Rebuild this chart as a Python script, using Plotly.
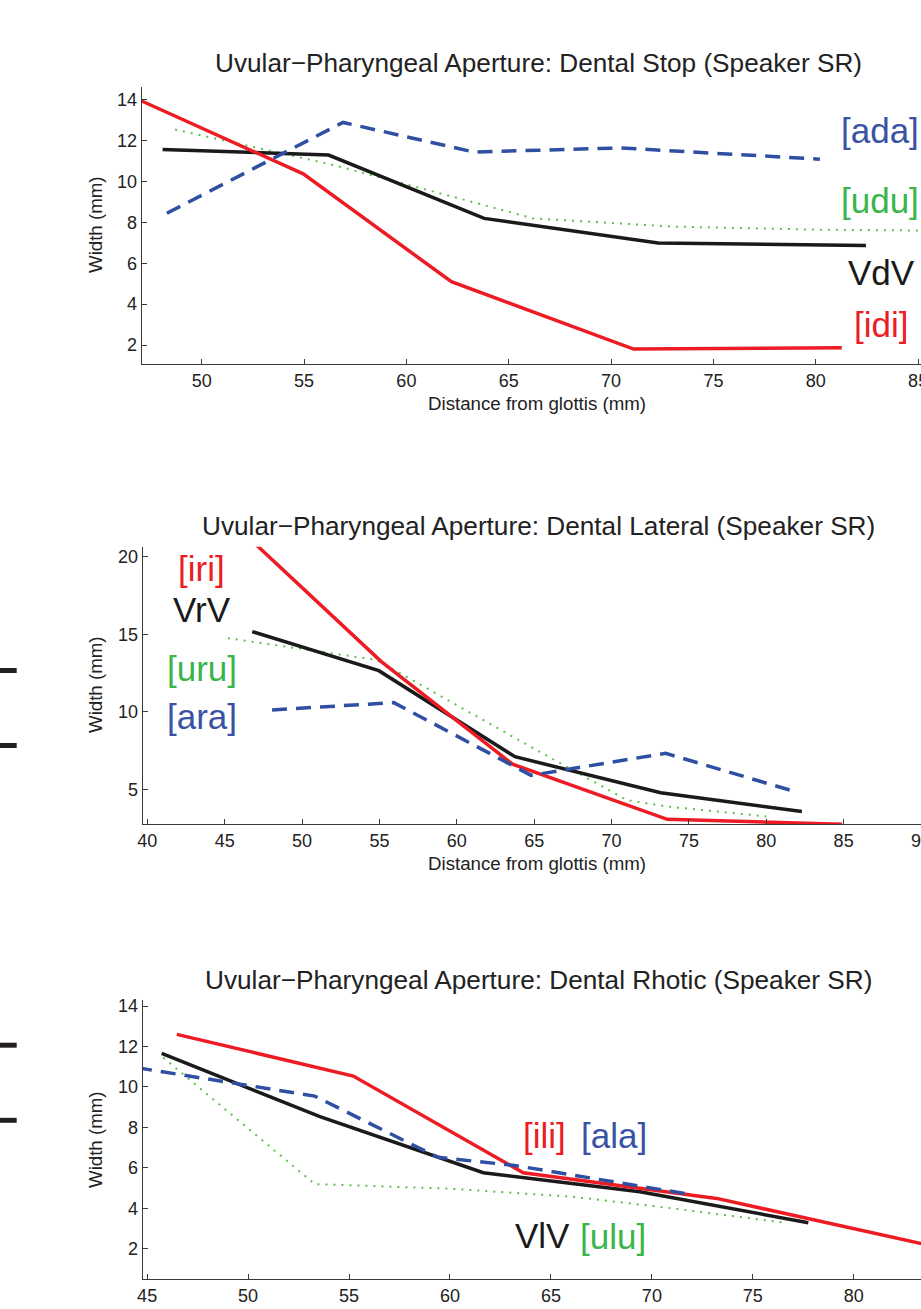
import plotly.graph_objects as go

# ---------------- data ----------------
# Dental Stop
stop_udu_x = [48.7, 56.3, 62.5, 66.2, 73.0, 80.0, 86.0]
stop_udu_y = [12.55, 10.85, 9.2, 8.2, 7.8, 7.65, 7.6]
stop_vdv_x = [48.09, 56.2, 63.8, 72.3, 82.45]
stop_vdv_y = [11.58, 11.3, 8.2, 7.0, 6.87]
stop_idi_x = [47.07, 54.96, 62.2, 71.1, 81.27]
stop_idi_y = [13.95, 10.38, 5.1, 1.8, 1.87]
stop_ada_x = [48.3, 56.9, 63.3, 70.5, 80.2]
stop_ada_y = [8.45, 12.9, 11.45, 11.65, 11.1]

# Dental Lateral
lat_uru_x = [45.2, 54.8, 65.3, 71.0, 73.5, 80.0]
lat_uru_y = [14.75, 13.35, 7.45, 4.3, 3.9, 3.25]
lat_vrv_x = [46.78, 54.96, 63.76, 73.18, 82.3]
lat_vrv_y = [15.17, 12.65, 7.1, 4.78, 3.56]
lat_iri_x = [46.9, 55.1, 63.6, 73.6, 84.9]
lat_iri_y = [20.9, 13.25, 6.62, 3.06, 2.74]
lat_ara_x = [48.06, 55.93, 64.8, 73.5, 81.65]
lat_ara_y = [10.12, 10.59, 5.9, 7.32, 4.91]

# Dental Rhotic
rho_ulu_x = [45.8, 53.3, 60.0, 66.1, 71.0, 76.5]
rho_ulu_y = [11.45, 5.2, 4.97, 4.57, 4.0, 3.3]
rho_vlv_x = [45.72, 53.56, 61.65, 69.41, 77.75]
rho_vlv_y = [11.66, 8.53, 5.76, 4.82, 3.29]
rho_ili_x = [46.47, 55.21, 63.63, 73.21, 84.5]
rho_ili_y = [12.6, 10.54, 5.76, 4.49, 2.0]
rho_ala_x = [44.5, 53.3, 59.4, 63.2, 72.05]
rho_ala_y = [10.95, 9.55, 6.52, 6.12, 4.66]

titles = [
    "Uvular\u2212Pharyngeal Aperture: Dental Stop (Speaker SR)",
    "Uvular\u2212Pharyngeal Aperture: Dental Lateral (Speaker SR)",
    "Uvular\u2212Pharyngeal Aperture: Dental Rhotic (Speaker SR)",
]
x_title = "Distance from glottis (mm)"
y_title = "Width (mm)"

stop_xticks = [50, 55, 60, 65, 70, 75, 80, 85]
stop_yticks = [2, 4, 6, 8, 10, 12, 14]
lat_xticks = [40, 45, 50, 55, 60, 65, 70, 75, 80, 85, 90]
lat_yticks = [5, 10, 15, 20]
rho_xticks = [45, 50, 55, 60, 65, 70, 75, 80]
rho_yticks = [2, 4, 6, 8, 10, 12, 14]

# ---------------- styling ----------------
W, H = 921, 1309
FONT = "Liberation Sans, Arial, Helvetica, sans-serif"
RED = "#ED1C24"
BLACK = "#1A1A1A"
BLUE = "#2E4FA2"
GREEN_LINE = "#5DBE4C"
GREEN_TXT = "#39B54A"
BLUE_TXT = "#3953A4"


def px(x):
    return x / W


def py(y):
    return 1 - y / H


fig = go.Figure()

styles = {
    "green": dict(color=GREEN_LINE, width=2, dash="2px,6px"),
    "black": dict(color=BLACK, width=3.5),
    "red": dict(color=RED, width=3.5),
    "blue": dict(color=BLUE, width=3.5, dash="15px,9px"),
}

panels = [
    ("x", "y", [(stop_udu_x, stop_udu_y, "green"), (stop_vdv_x, stop_vdv_y, "black"),
                (stop_idi_x, stop_idi_y, "red"), (stop_ada_x, stop_ada_y, "blue")]),
    ("x2", "y2", [(lat_uru_x, lat_uru_y, "green"), (lat_vrv_x, lat_vrv_y, "black"),
                  (lat_iri_x, lat_iri_y, "red"), (lat_ara_x, lat_ara_y, "blue")]),
    ("x3", "y3", [(rho_ulu_x, rho_ulu_y, "green"), (rho_vlv_x, rho_vlv_y, "black"),
                  (rho_ili_x, rho_ili_y, "red"), (rho_ala_x, rho_ala_y, "blue")]),
]
for xa, ya, series in panels:
    for xs, ys, st in series:
        fig.add_trace(go.Scatter(x=xs, y=ys, mode="lines", line=styles[st],
                                 xaxis=xa, yaxis=ya, showlegend=False,
                                 hoverinfo="skip"))

axis_common = dict(showline=True, linecolor="#3a3a3a", linewidth=1.3,
                   ticks="inside", ticklen=5, tickcolor="#3a3a3a", tickwidth=1,
                   showgrid=False, zeroline=False, automargin=False,
                   ticklabeloverflow="allow",
                   tickfont=dict(family=FONT, size=18, color="#222"),
                   tickmode="array")

# plot-area geometry in pixels: (left, top, bottom)
geo = [(141.7, 86.7, 364.0), (142.7, 546.7, 824.0), (142.7, 1000.0, 1279.3)]
xr = [[47.07, 85.14], [39.70, 90.0], [44.78, 83.33]]
yr = [[1.07, 14.65], [2.76, 20.65], [0.49, 14.30]]
xt = [stop_xticks, lat_xticks, rho_xticks]
yt = [stop_yticks, lat_yticks, rho_yticks]

layout = {}
for i in range(3):
    l, t, b = geo[i]
    sx = "" if i == 0 else str(i + 1)
    layout["xaxis" + sx] = dict(axis_common, domain=[px(l), 1.0], range=xr[i],
                                tickvals=xt[i], anchor="y" + sx)
    layout["yaxis" + sx] = dict(axis_common, domain=[py(b), py(t)], range=yr[i],
                                tickvals=yt[i], anchor="x" + sx)

annotations = []
title_y = [63, 526, 980]
for i in range(3):
    annotations.append(dict(text=titles[i], x=px(538), y=py(title_y[i]),
                            xref="paper", yref="paper", showarrow=False,
                            xanchor="center", yanchor="middle",
                            font=dict(family=FONT, size=26.2, color="#222")))
# axis titles
for yc in [403, 863]:
    annotations.append(dict(text=x_title, x=px(536.5), y=py(yc), xref="paper", yref="paper",
                            showarrow=False, xanchor="center", yanchor="middle",
                            font=dict(family=FONT, size=18.7, color="#222")))
for yc in [225, 685, 1140]:
    annotations.append(dict(text=y_title, x=px(95), y=py(yc), xref="paper", yref="paper",
                            showarrow=False, xanchor="center", yanchor="middle", textangle=-90,
                            font=dict(family=FONT, size=18.7, color="#222")))

# in-plot labels: (text, colour, centre x px, centre y px)
labels = [
    ("[ada]", BLUE_TXT, 880, 130), ("[udu]", GREEN_TXT, 880, 201),
    ("VdV", BLACK, 881, 272), ("[idi]", RED, 880.5, 325),
    ("[iri]", RED, 201, 569), ("VrV", BLACK, 201.5, 609.5),
    ("[uru]", GREEN_TXT, 201.5, 668), ("[ara]", BLUE_TXT, 201.5, 716),
    ("[ili]", RED, 544, 1135), ("[ala]", BLUE_TXT, 613.5, 1135),
    ("VlV", BLACK, 542.5, 1235), ("[ulu]", GREEN_TXT, 613, 1236),
]
for txt, col, cx, cy in labels:
    annotations.append(dict(text=txt, x=px(cx), y=py(cy), xref="paper", yref="paper",
                            showarrow=False, xanchor="center", yanchor="middle",
                            font=dict(family=FONT, size=35, color=col)))

# cropped legend remnants at left edge
shapes = []
for yc in [670.5, 745.5, 1045.2, 1120.3]:
    shapes.append(dict(type="rect", xref="paper", yref="paper",
                       x0=0, x1=px(16.7), y0=py(yc + 2.5), y1=py(yc - 2.5),
                       fillcolor="#231F20", line=dict(width=0)))

fig.update_layout(width=W, height=H, margin=dict(l=0, r=0, t=0, b=0),
                  paper_bgcolor="white", plot_bgcolor="white",
                  annotations=annotations, shapes=shapes, **layout)

fig.write_html("out.html", config={"displayModeBar": False},
               post_script="document.body.style.margin='0';"
                           "document.body.style.overflow='hidden';")
